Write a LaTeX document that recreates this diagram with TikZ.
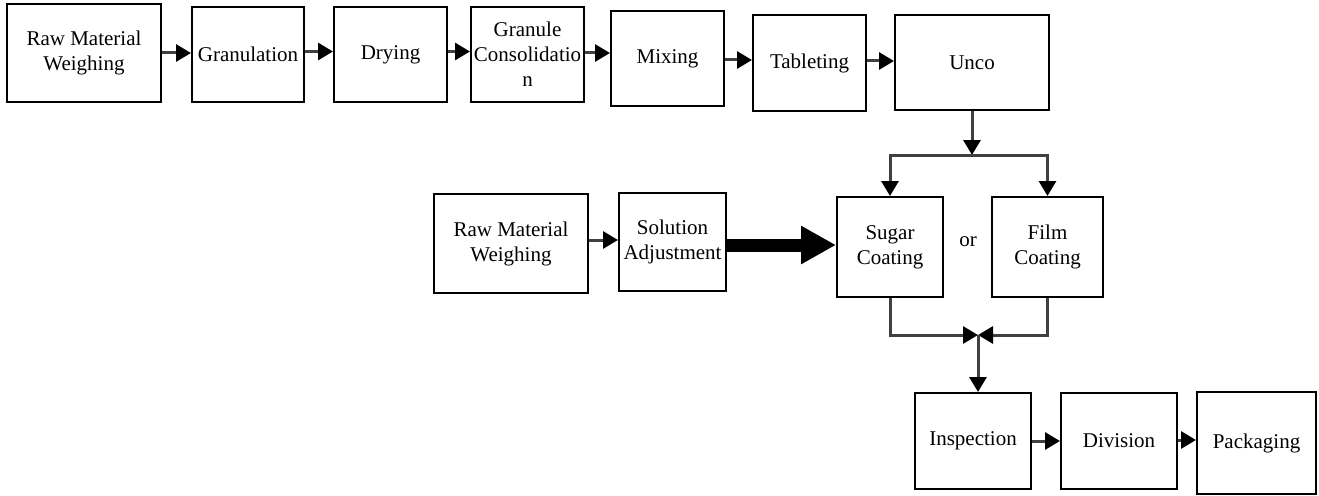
\documentclass[tikz,border=0pt]{standalone}
\usepackage{fontspec}
\setmainfont{Liberation Serif}
\usepackage{tikz}
\usetikzlibrary{arrows.meta}

\begin{document}
\begin{tikzpicture}[x=1pt, y=-1pt, font=\fontsize{21}{25}\selectfont]
			\tikzstyle{process} = [rectangle, draw=black, line width=2pt, align=center, inner sep=0pt]
			
			\tikzstyle{arrow} = [-{Triangle[length=15pt, width=17pt, color=black]}, draw=black!75, line width=3pt]
			
			\tikzstyle{bigarrow} = [-{Triangle[length=35pt, width=36pt, color=black]}, draw=black, line width=13pt]
			
			\useasboundingbox (0,0) rectangle (1319,495);
			
			% Top row nodes
			\node (raw1) [process, minimum width=154pt, minimum height=98pt] at (84,53) {Raw Material\\Weighing};
			\node (gran) [process, minimum width=112pt, minimum height=95pt] at (248,54.5) {Granulation};
			\node (dry) [process, minimum width=113pt, minimum height=95pt] at (390.5,54.5) {Drying};
			\node (cons) [process, minimum width=113pt, minimum height=95pt] at (527.5,54.5) {Granule\\Consolidatio\\n};
			\node (mix) [process, minimum width=113pt, minimum height=95pt] at (667.5,58.5) {Mixing};
			\node (tab) [process, minimum width=113pt, minimum height=96pt] at (809.5,63) {Tableting};
			\node (unco) [process, minimum width=154pt, minimum height=95pt] at (972,62.5) {Unco};
			
			% Coating row nodes
			\node (raw2) [process, minimum width=154pt, minimum height=99pt] at (511,243.5) {Raw Material\\Weighing};
			\node (sol) [process, minimum width=107pt, minimum height=98pt] at (672.5,242) {Solution\\Adjustment};
			\node (sugar) [process, minimum width=106pt, minimum height=100pt] at (890,247) {Sugar\\Coating};
			\node (film) [process, minimum width=111pt, minimum height=100pt] at (1047.5,247) {Film\\Coating};
			\node (or) at (968,242) {or};
			
			% Bottom row nodes
			\node (insp) [process, minimum width=116pt, minimum height=96pt] at (973,441) {Inspection};
			\node (div) [process, minimum width=116pt, minimum height=96pt] at (1119,441) {Division};
			\node (pack) [process, minimum width=119pt, minimum height=102pt] at (1256.5,443) {Packaging};
			
			% Branch points
			\coordinate (split) at (972,155);
			\coordinate (merge) at (978,335);
			
			% Arrows
			\draw [arrow] (raw1.east) -- (raw1.east -| gran.west);
			\draw [arrow] ([yshift=3pt]gran.east) -- ([yshift=3pt]dry.west);
			\draw [arrow] ([yshift=3pt]dry.east) -- ([yshift=3pt]cons.west);
			\draw [arrow] ([yshift=1.5pt]cons.east) -- ([yshift=1.5pt]cons.east -| mix.west);
			\draw [arrow] ([yshift=-1.5pt]mix.east) -- ([yshift=-1.5pt]mix.east -| tab.west);
			\draw [arrow] ([yshift=2pt]tab.east) -- ([yshift=2pt]tab.east -| unco.west);
			\draw [arrow] (unco.south) -- (split);
			\draw [arrow] (split) -| (sugar.north);
			\draw [arrow] (split) -| (film.north);
			\draw [arrow] ([yshift=3.5pt]raw2.east) -- ([yshift=3.5pt]raw2.east -| sol.west);
			\draw [bigarrow] ([yshift=-3pt]sol.east) -- ([yshift=-3pt]sol.east -| sugar.west);
			\draw [arrow] (sugar.south) |- (merge);
			\draw [arrow] (film.south) |- (merge);
			\draw [arrow] (merge) -- (merge |- insp.north);
			\draw [arrow] (insp.east) -- (div.west);
			\draw [arrow] ([yshift=1pt]div.east) -- ([yshift=1pt]div.east -| pack.west);
		\end{tikzpicture}
\end{document}
